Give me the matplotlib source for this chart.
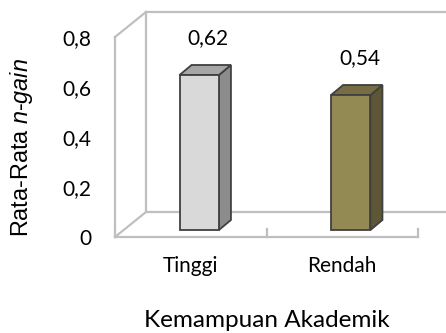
import numpy as np
import matplotlib.pyplot as plt
from matplotlib.patches import Polygon
from matplotlib.transforms import ScaledTranslation

plt.rcParams['font.family'] = ['Lato', 'DejaVu Sans']
plt.rcParams['mathtext.fontset'] = 'custom'
plt.rcParams['mathtext.it'] = 'Liberation Sans:italic'
plt.rcParams['mathtext.rm'] = 'Liberation Sans'

categories = ['Tinggi', 'Rendah']
values = [0.62, 0.54]
labels = ['0,62', '0,54']
yticks = [0, 0.2, 0.4, 0.6, 0.8]
ytick_labels = ['0', '0,2', '0,4', '0,6', '0,8']

front_colors = ['#D9D9D9', '#938953']
side_colors = ['#8C8C8C', '#5D5738']
top_colors = ['#A6A6A6', '#776D44']
edge = '#404040'
wall = '#BFBFBF'

DPI = 100
fig = plt.figure(figsize=(4.46, 3.33), dpi=DPI)
W, H = 446, 333
# front plane of the box in pixels
left, right, bottom, top = 115, 418, 237, 37
ax = fig.add_axes([left / W, 1 - bottom / H, (right - left) / W, (bottom - top) / H])
ax.set_xlim(-0.5, 1.5)
ax.set_ylim(0, 0.8)
for s in ax.spines.values():
    s.set_visible(False)
ax.patch.set_visible(False)


def shift(dx, dy):
    return ScaledTranslation(dx / DPI, dy / DPI, fig.dpi_scale_trans)


depth = (31, 25)
back = ax.transAxes + shift(*depth)
# back wall, floor and left edges
kw = dict(color=wall, lw=1.6, clip_on=False, solid_capstyle='projecting')
ax.plot([0, 0, 1.1], [1, 0, 0], transform=back, **kw)
ax.plot([0, 1.1], [1, 1], transform=back, **kw)
ax.plot([0, 0], [0, 1], transform=ax.transAxes, **kw)
ax.plot([0, 1], [0, 0], transform=ax.transAxes, **kw)
for yy in (0, 1):
    p0 = ax.transAxes.transform((0, yy))
    ax.plot([p0[0], p0[0] + depth[0]], [p0[1], p0[1] + depth[1]],
            transform=None, **kw)
# category separators on the floor edge
for xt in (0.5, 1.5):
    p = ax.transData.transform((xt, 0))
    ax.plot([p[0], p[0]], [p[1], p[1] + 8], transform=None, **kw)

# 3D bars
width = 0.26
bar_off = (8.5, 7)
bar_depth = np.array([12, 10])
x = np.arange(len(categories))
ax.bar(x, values, width, color=front_colors, edgecolor=edge, linewidth=1.3,
       transform=ax.transData + shift(*bar_off), zorder=3)
for i, v in enumerate(values):
    br = ax.transData.transform((x[i] + width / 2, 0)) + bar_off
    tr = ax.transData.transform((x[i] + width / 2, v)) + bar_off
    tl = ax.transData.transform((x[i] - width / 2, v)) + bar_off
    side = Polygon([br, tr, tr + bar_depth, br + bar_depth], closed=True, transform=None,
                   facecolor=side_colors[i], edgecolor=edge, lw=1.3, zorder=2)
    topf = Polygon([tl, tr, tr + bar_depth, tl + bar_depth], closed=True, transform=None,
                   facecolor=top_colors[i], edgecolor=edge, lw=1.3, zorder=2)
    ax.add_patch(side)
    ax.add_patch(topf)
    ax.annotate(labels[i], (x[i], v), xytext=(12.5, 31.5), textcoords='offset points',
                ha='center', va='center', fontsize=15, color='black')

ax.set_yticks(yticks)
ax.set_yticklabels(ytick_labels)
ax.set_xticks(x)
ax.set_xticklabels(categories)
ax.tick_params(axis='y', length=0, pad=17, labelsize=15)
ax.tick_params(axis='x', length=0, pad=14, labelsize=15)
ax.set_xlabel('Kemampuan Akademik', fontsize=17.5, labelpad=24)
fig.text(22 / W, 1 - 148 / H, r'Rata-Rata $\mathit{n}$-$\mathit{gain}$',
         family='Liberation Sans', fontsize=16.8, rotation=90, ha='center', va='center')

fig.savefig('out.png', dpi=DPI)
